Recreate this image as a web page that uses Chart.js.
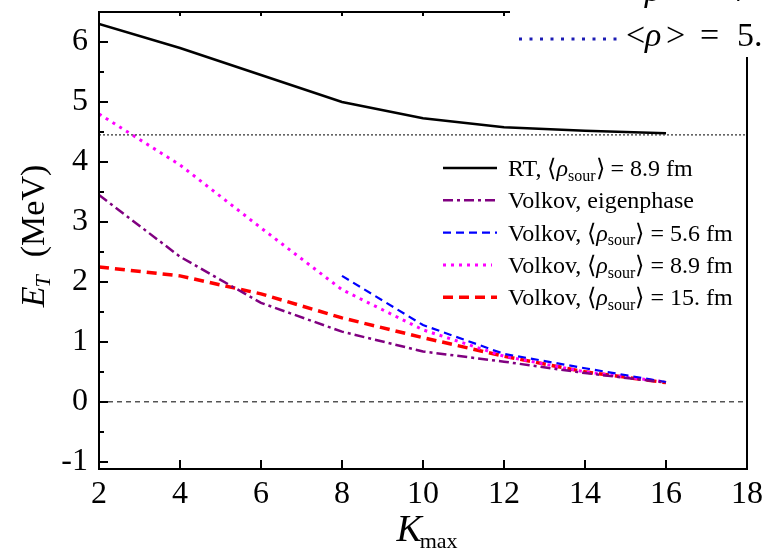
<!DOCTYPE html>
<html>
<head>
<meta charset="utf-8">
<title>E_T vs K_max</title>
<script src="https://cdn.jsdelivr.net/npm/chart.js@4.4.1/dist/chart.umd.min.js"></script>
<style>
  html, body { margin: 0; padding: 0; background: #fff; }
  #wrap { position: relative; width: 767px; height: 551px; }
</style>
</head>
<body>
<div id="wrap"><canvas id="chart" width="767" height="551"></canvas></div>
<script>
// data
const kValues = [2, 4, 6, 8, 10, 12, 14, 16];
const kBlue = [8, 10, 12, 14, 16];
const rtValues = [6.30, 5.90, 5.45, 5.00, 4.73, 4.58, 4.52, 4.48];
const eigenValues = [3.45, 2.42, 1.65, 1.17, 0.84, 0.67, 0.48, 0.32];
const volkov56 = [2.10, 1.28, 0.80, 0.56, 0.33];
const volkov89 = [4.80, 3.95, 2.90, 1.87, 1.20, 0.76, 0.50, 0.33];
const volkov15 = [2.25, 2.10, 1.80, 1.40, 1.07, 0.76, 0.50, 0.32];
const refLevel = 4.45;   // dotted horizontal line
const zeroLevel = 0;     // dashed horizontal line
const xRange = [2, 18];
const xTicks = [2, 4, 6, 8, 10, 12, 14, 16, 18];
const yTicks = [-1, 0, 1, 2, 3, 4, 5, 6];
const yMinor = [-0.5, 0.5, 1.5, 2.5, 3.5, 4.5, 5.5];

const serif = '"Liberation Serif", "Times New Roman", serif';

function pts(xs, ys) {
  return xs.map((x, i) => ({ x: x, y: ys[i] }));
}

// draws text like "Volkov, ⟨ρ_sour⟩ = 5.6 fm" with italic rho and subscript
function richText(ctx, x, y, text, size) {
  const parts = text.split(/(ρ|_[a-z]+)/).filter(s => s.length);
  parts.forEach(p => {
    let font = size + 'px ' + serif;
    let dy = 0;
    let str = p;
    if (p === 'ρ') font = 'italic ' + size + 'px ' + serif;
    else if (p[0] === '_') { str = p.slice(1); font = Math.round(size * 0.66) + 'px ' + serif; dy = size * 0.2; }
    ctx.font = font;
    ctx.fillText(str, x, y + dy);
    x += ctx.measureText(str).width;
  });
  return x;
}

// pieces placed at fixed x, for the pasted legend fragment
function pieces(ctx, y, list) {
  list.forEach(p => {
    ctx.font = (p[2] ? 'italic ' : '') + '34px ' + serif;
    ctx.fillText(p[0], p[1], y);
  });
}

const framePlugin = {
  id: 'frame',
  afterDatasetsDraw(chart) {
    const ctx = chart.ctx;
    const a = chart.chartArea;
    const xs = chart.scales.x, ys = chart.scales.y;
    ctx.save();
    ctx.strokeStyle = '#000';
    ctx.lineWidth = 2;
    ctx.setLineDash([]);
    ctx.strokeRect(a.left, a.top, a.right - a.left, a.bottom - a.top);
    ctx.beginPath();
    yTicks.forEach(v => {
      const py = Math.round(ys.getPixelForValue(v));
      ctx.moveTo(a.left, py); ctx.lineTo(a.left + 9, py);
    });
    yMinor.forEach(v => {
      const py = Math.round(ys.getPixelForValue(v));
      ctx.moveTo(a.left, py); ctx.lineTo(a.left + 5, py);
    });
    xTicks.forEach(v => {
      const px = Math.round(xs.getPixelForValue(v));
      ctx.moveTo(px, a.bottom); ctx.lineTo(px, a.bottom - 9);
      ctx.moveTo(px, a.top); ctx.lineTo(px, a.top + 4);
    });
    ctx.stroke();
    ctx.restore();
  },
  afterDraw(chart) {
    const ctx = chart.ctx;
    ctx.save();
    ctx.fillStyle = '#000';
    ctx.textBaseline = 'alphabetic';

    // legend
    let rowY = 168;
    chart.data.datasets.forEach(ds => {
      if (!ds.inLegend) return;
      ctx.strokeStyle = ds.borderColor;
      ctx.lineWidth = ds.borderWidth;
      ctx.setLineDash(ds.borderDash || []);
      ctx.beginPath();
      ctx.moveTo(443, rowY);
      ctx.lineTo(ds.legendEnd || 497, rowY);
      ctx.stroke();
      ctx.setLineDash([]);
      richText(ctx, 508, rowY + 8, ds.label, 24);
      rowY += 32.3;
    });

    // y axis title
    ctx.save();
    ctx.translate(44, 236);
    ctx.rotate(-Math.PI / 2);
    ctx.font = 'italic 34px ' + serif;
    const w1 = ctx.measureText('E').width;
    ctx.font = 'italic 22px ' + serif;
    const w2 = ctx.measureText('T').width;
    ctx.font = '34px ' + serif;
    const w3 = ctx.measureText('  (MeV)').width;
    let x0 = -(w1 + w2 + w3) / 2;
    ctx.font = 'italic 34px ' + serif;
    ctx.fillText('E', x0, 0);
    ctx.font = 'italic 22px ' + serif;
    ctx.fillText('T', x0 + w1 - 1, 6);
    ctx.font = '34px ' + serif;
    ctx.fillText('  (MeV)', x0 + w1 + w2, 0);
    ctx.restore();

    // x axis title
    const xs = chart.scales.x;
    const cx = xs.getPixelForValue(10) + 5;
    ctx.font = 'italic 38px ' + serif;
    const kw = ctx.measureText('K').width;
    ctx.font = '22px ' + serif;
    const mw = ctx.measureText('max').width;
    let kx = cx - (kw + mw) / 2;
    ctx.font = 'italic 38px ' + serif;
    ctx.fillText('K', kx, 541);
    ctx.font = '22px ' + serif;
    ctx.fillText('max', kx + kw - 2, 548);

    // pasted fragment of another legend, top right
    ctx.fillStyle = '#fff';
    ctx.fillRect(510, 0, 257, 57);
    ctx.fillStyle = '#000';
    pieces(ctx, 1, [['ρ', 645, true], ['7', 733, false]]);
    ctx.strokeStyle = '#1c1cb4';
    ctx.lineWidth = 3;
    ctx.setLineDash([3, 7.5]);
    ctx.beginPath();
    ctx.moveTo(519, 39);
    ctx.lineTo(619, 39);
    ctx.stroke();
    ctx.setLineDash([]);
    pieces(ctx, 46, [['<', 626, false], ['ρ', 645, true], ['>', 666, false], ['=', 700, false], ['5.', 737, false]]);
    ctx.restore();
  }
};

const chart = new Chart(document.getElementById('chart').getContext('2d'), {
  type: 'line',
  data: {
    datasets: [
      {
        label: 'zero',
        data: pts(xRange, [zeroLevel, zeroLevel]),
        borderColor: '#000', borderWidth: 1, borderDash: [5, 4]
      },
      {
        label: 'level',
        data: pts(xRange, [refLevel, refLevel]),
        borderColor: '#333', borderWidth: 1.3, borderDash: [2, 2]
      },
      {
        label: 'RT, ⟨ρ_sour⟩ = 8.9 fm', inLegend: true,
        data: pts(kValues, rtValues),
        borderColor: '#000', borderWidth: 2.5
      },
      {
        label: 'Volkov, eigenphase', inLegend: true,
        data: pts(kValues, eigenValues),
        borderColor: '#800080', borderWidth: 2.5, borderDash: [10, 4, 3, 4]
      },
      {
        label: 'Volkov, ⟨ρ_sour⟩ = 5.6 fm', inLegend: true,
        data: pts(kBlue, volkov56),
        borderColor: '#0000ff', borderWidth: 2.2, borderDash: [8, 5]
      },
      {
        label: 'Volkov, ⟨ρ_sour⟩ = 8.9 fm', inLegend: true, legendEnd: 492,
        data: pts(kValues, volkov89),
        borderColor: '#ff00ff', borderWidth: 3, borderDash: [3, 5]
      },
      {
        label: 'Volkov, ⟨ρ_sour⟩ = 15. fm', inLegend: true,
        data: pts(kValues, volkov15),
        borderColor: '#ff0000', borderWidth: 3.5, borderDash: [10, 6]
      }
    ]
  },
  options: {
    responsive: false,
    animation: false,
    devicePixelRatio: 1,
    layout: { padding: { top: 12, right: 20, left: 0, bottom: 0 } },
    elements: { point: { radius: 0 }, line: { tension: 0, fill: false } },
    plugins: { legend: { display: false }, tooltip: { enabled: false } },
    scales: {
      x: {
        type: 'linear', min: xRange[0], max: xRange[1],
        afterBuildTicks: s => { s.ticks = xTicks.map(v => ({ value: v })); },
        afterFit: s => { s.height = 82; s.paddingLeft = 0; s.paddingRight = 0; },
        grid: { display: false, drawTicks: false },
        border: { display: false },
        ticks: { color: '#000', font: { family: serif, size: 32 }, padding: 6, maxRotation: 0, autoSkip: false }
      },
      y: {
        type: 'linear', min: -1.12, max: 6.5,
        afterBuildTicks: s => { s.ticks = yTicks.map(v => ({ value: v })); },
        afterFit: s => { s.width = 99; s.paddingTop = 0; s.paddingBottom = 0; },
        grid: { display: false, drawTicks: false },
        border: { display: false },
        ticks: { color: '#000', font: { family: serif, size: 32 }, padding: 11, autoSkip: false }
      }
    }
  },
  plugins: [framePlugin]
});
</script>
</body>
</html>
